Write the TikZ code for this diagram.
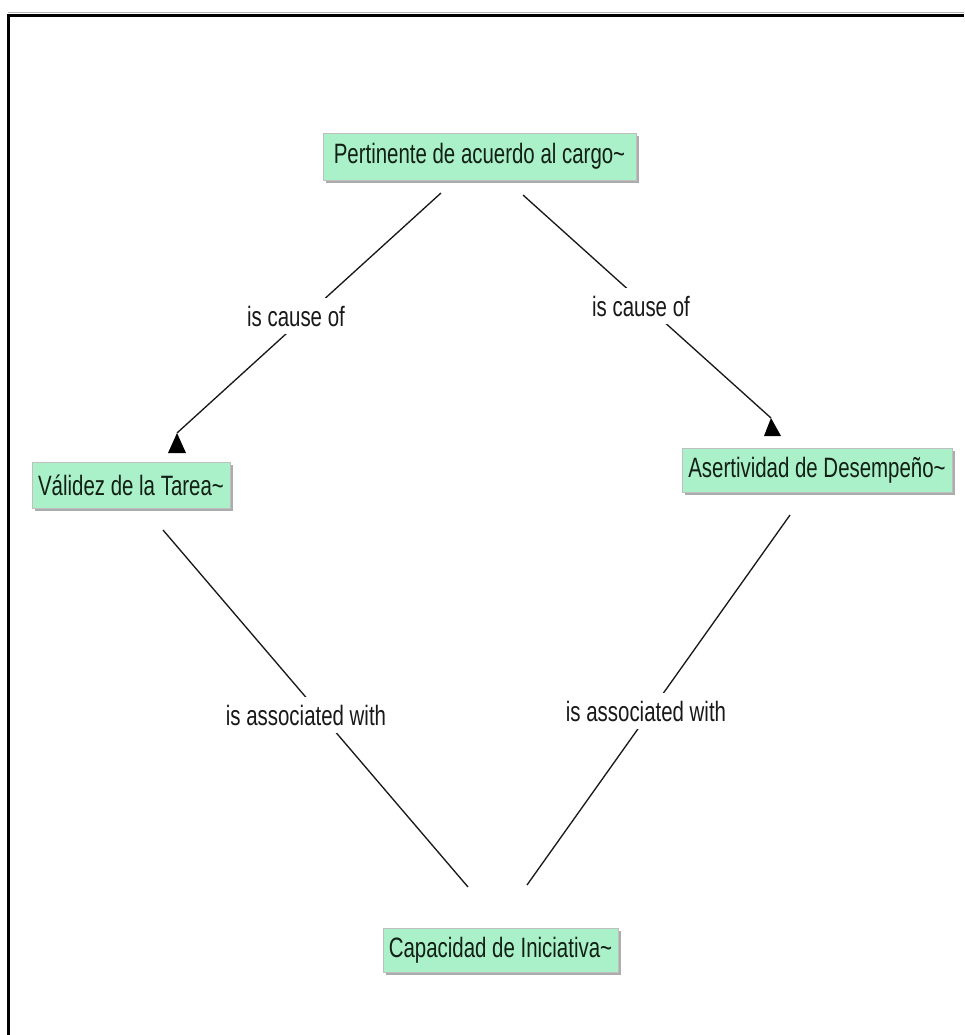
\documentclass[tikz,border=0pt]{standalone}
\usepackage{fontspec}
\newfontfamily\cmapfont[FakeStretch=0.73]{Liberation Sans}
\usetikzlibrary{shadows}
\definecolor{conceptfill}{RGB}{170,240,200}
\definecolor{concepttext}{RGB}{18,32,22}
\definecolor{linkink}{RGB}{25,25,25}
\begin{document}
\begin{tikzpicture}[x=0.75pt,y=-0.75pt,
  concept/.style={draw=gray!50, line width=0.6pt, fill=conceptfill, text=concepttext,
    font=\cmapfont\fontsize{21}{24}\selectfont, inner sep=0pt,
    general shadow={fill=gray!65, shadow xshift=2pt, shadow yshift=-2pt}},
  link/.style={draw=linkink, line width=1pt},
  linklabel/.style={fill=white, text=linkink, inner xsep=3pt, inner ysep=6pt,
    font=\cmapfont\fontsize{21}{24}\selectfont},
  tiphead/.style={fill=black}]
\useasboundingbox (0,0) rectangle (964,1035);

% page frame, open at right and bottom
\draw[gray!60, line width=0.75pt] (8,12) -- (964,12);
\draw[black, line width=2.25pt] (8.5,1035) -- (8.5,15.5) -- (964,15.5);

% concepts
\node[concept, minimum width=234.75pt, minimum height=35.25pt] (pert) at (479.5,156.5) {Pertinente de acuerdo al cargo\textasciitilde};
\node[concept, minimum width=148.5pt, minimum height=34.5pt] (vali) at (131,485) {Válidez de la Tarea\textasciitilde};
\node[concept, minimum width=202.5pt, minimum height=33pt] (aser) at (817,470) {Asertividad de Desempeño\textasciitilde};
\node[concept, minimum width=176.25pt, minimum height=33pt] (capa) at (500.5,950) {Capacidad de Iniciativa\textasciitilde};

% connector end points
\coordinate (p1) at (441,193);
\coordinate (p2) at (523,195);
\coordinate (v1) at (177,433);
\coordinate (v2) at (163,530);
\coordinate (a1) at (771,418);
\coordinate (a2) at (790,515);
\coordinate (c1) at (468,887);
\coordinate (c2) at (527,885);

% connectors
\draw[link] (p1) -- (v1);
\draw[link] (p2) -- (a1);
\draw[link] (v2) -- (c1);
\draw[link] (a2) -- (c2);

% arrow heads
\fill[tiphead] (v1) -- ++(-9,20) -- ++(18,0) -- cycle;
\fill[tiphead] (a1) -- ++(-7,18) -- ++(17,0) -- cycle;

% link labels
\node[linklabel] (l1) at (296,316) {is cause of};
\node[linklabel] (l2) at (641,306) {is cause of};
\node[linklabel] (l3) at (306,715) {is associated with};
\node[linklabel] (l4) at (646,711) {is associated with};
\end{tikzpicture}
\end{document}
